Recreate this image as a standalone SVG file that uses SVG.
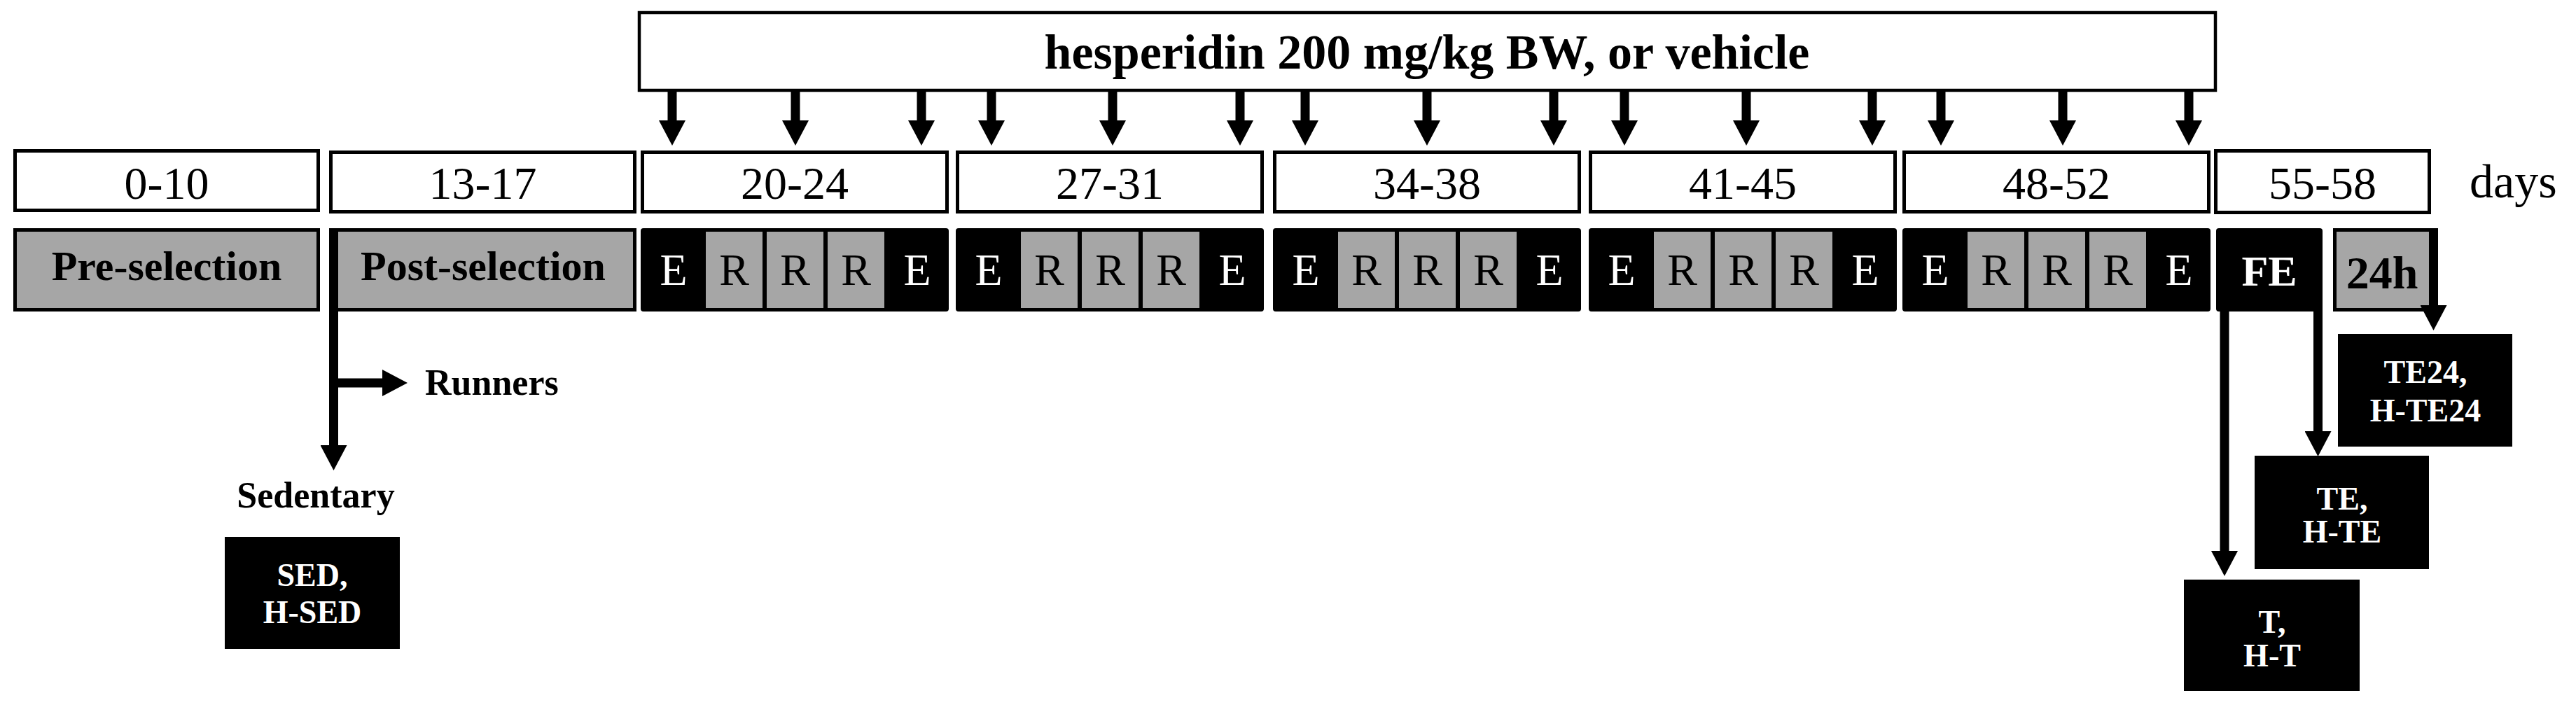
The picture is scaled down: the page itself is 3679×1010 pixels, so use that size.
<svg xmlns="http://www.w3.org/2000/svg" width="3679" height="1010" viewBox="0 0 3679 1010">
<style>
  text { font-family: "Liberation Serif", "Times New Roman", serif; }
  .day { fill: #fff; stroke: #000; stroke-width: 5; }
  .lbl { font-size: 66px; text-anchor: middle; fill: #000; }
  .wk { fill: #000; }
  .cell { fill: #a6a6a6; }
  .gbox { fill: #a6a6a6; stroke: #000; stroke-width: 5; }
  .E { font-size: 64px; text-anchor: middle; fill: #fff; }
  .R { font-size: 64px; text-anchor: middle; fill: #000; }
  .bold { font-weight: bold; }
  .res { fill: #000; }
  .rtxt { font-size: 46px; font-weight: bold; text-anchor: middle; fill: #fff; }
  .conn { stroke: #000; stroke-width: 13; fill: none; marker-end: url(#ah); }
  .plain { stroke: #000; stroke-width: 13; fill: none; }
</style>
<defs>
  <marker id="ah" markerUnits="userSpaceOnUse" markerWidth="36" markerHeight="38" viewBox="0 0 36 38" refX="0" refY="19" orient="auto">
    <path d="M0,0 L36,19 L0,38 Z" fill="#000"/>
  </marker>
</defs>

<g id="treatment">
  <rect x="913" y="18" width="2251" height="111" fill="#fff" stroke="#000" stroke-width="4.5"/>
  <text x="2038" y="98" class="bold" font-size="70" text-anchor="middle">hesperidin 200 mg/kg BW, or vehicle</text>
</g>

<g id="days-row">
  <g id="d0-10"><rect class="day" x="21.5" y="215.5" width="433" height="85"/><text class="lbl" x="238" y="284">0-10</text></g>
  <g id="d13-17"><rect class="day" x="472.5" y="217.5" width="434" height="85"/><text class="lbl" x="689.5" y="284">13-17</text></g>
  <g id="d20-24"><rect class="day" x="917.5" y="217.5" width="435" height="85"/><text class="lbl" x="1135" y="284">20-24</text></g>
  <g id="d27-31"><rect class="day" x="1367.5" y="217.5" width="435" height="85"/><text class="lbl" x="1585" y="284">27-31</text></g>
  <g id="d34-38"><rect class="day" x="1820.5" y="217.5" width="435" height="85"/><text class="lbl" x="2038" y="284">34-38</text></g>
  <g id="d41-45"><rect class="day" x="2271.5" y="217.5" width="435" height="85"/><text class="lbl" x="2489" y="284">41-45</text></g>
  <g id="d48-52"><rect class="day" x="2719.5" y="217.5" width="435" height="85"/><text class="lbl" x="2937" y="284">48-52</text></g>
  <g id="d55-58"><rect class="day" x="3164.5" y="215.5" width="305" height="88"/><text class="lbl" x="3317" y="284">55-58</text></g>
  <text id="days" x="3527" y="282" font-size="68">days</text>
</g>

<g id="pre-selection">
  <rect class="gbox" x="21.5" y="328.5" width="433" height="114"/>
  <text x="238" y="400" class="bold" font-size="60" text-anchor="middle">Pre-selection</text>
</g>
<g id="post-selection">
  <rect class="gbox" x="472.5" y="328.5" width="434" height="114"/>
  <text x="690" y="400" class="bold" font-size="60" text-anchor="middle">Post-selection</text>
</g>

<g id="week1">
  <rect class="wk" x="915" y="326" width="440" height="119" rx="4"/>
  <rect class="cell" x="1008" y="331" width="81" height="109"/>
  <rect class="cell" x="1095" y="331" width="81" height="109"/>
  <rect class="cell" x="1182" y="331" width="81" height="109"/>
  <text class="E" x="962" y="407">E</text><text class="R" x="1048.5" y="407">R</text><text class="R" x="1135.5" y="407">R</text><text class="R" x="1222.5" y="407">R</text><text class="E" x="1310" y="407">E</text>
</g>
<g id="week2">
  <rect class="wk" x="1365" y="326" width="440" height="119" rx="4"/>
  <rect class="cell" x="1458" y="331" width="81" height="109"/>
  <rect class="cell" x="1545" y="331" width="81" height="109"/>
  <rect class="cell" x="1632" y="331" width="81" height="109"/>
  <text class="E" x="1412" y="407">E</text><text class="R" x="1498.5" y="407">R</text><text class="R" x="1585.5" y="407">R</text><text class="R" x="1672.5" y="407">R</text><text class="E" x="1760" y="407">E</text>
</g>
<g id="week3">
  <rect class="wk" x="1818" y="326" width="440" height="119" rx="4"/>
  <rect class="cell" x="1911" y="331" width="81" height="109"/>
  <rect class="cell" x="1998" y="331" width="81" height="109"/>
  <rect class="cell" x="2085" y="331" width="81" height="109"/>
  <text class="E" x="1865" y="407">E</text><text class="R" x="1951.5" y="407">R</text><text class="R" x="2038.5" y="407">R</text><text class="R" x="2125.5" y="407">R</text><text class="E" x="2213" y="407">E</text>
</g>
<g id="week4">
  <rect class="wk" x="2269" y="326" width="440" height="119" rx="4"/>
  <rect class="cell" x="2362" y="331" width="81" height="109"/>
  <rect class="cell" x="2449" y="331" width="81" height="109"/>
  <rect class="cell" x="2536" y="331" width="81" height="109"/>
  <text class="E" x="2316" y="407">E</text><text class="R" x="2402.5" y="407">R</text><text class="R" x="2489.5" y="407">R</text><text class="R" x="2576.5" y="407">R</text><text class="E" x="2664" y="407">E</text>
</g>
<g id="week5">
  <rect class="wk" x="2717" y="326" width="440" height="119" rx="4"/>
  <rect class="cell" x="2810" y="331" width="81" height="109"/>
  <rect class="cell" x="2897" y="331" width="81" height="109"/>
  <rect class="cell" x="2984" y="331" width="81" height="109"/>
  <text class="E" x="2764" y="407">E</text><text class="R" x="2850.5" y="407">R</text><text class="R" x="2937.5" y="407">R</text><text class="R" x="3024.5" y="407">R</text><text class="E" x="3112" y="407">E</text>
</g>

<g id="FE">
  <rect class="wk" x="3165" y="326" width="152" height="119" rx="4"/>
  <text x="3241" y="408" class="bold" font-size="62" text-anchor="middle" fill="#fff">FE</text>
</g>
<g id="h24">
  <rect class="gbox" x="3334.5" y="328.5" width="145" height="114"/>
  <text x="3402" y="412" class="bold" font-size="66" text-anchor="middle">24h</text>
</g>

<g id="SED">
  <rect class="res" x="321" y="767" width="250" height="160"/>
  <text class="rtxt" x="446" y="837">SED,</text>
  <text class="rtxt" x="446" y="890">H-SED</text>
</g>
<g id="TE24">
  <rect class="res" x="3339" y="477" width="249" height="161"/>
  <text class="rtxt" x="3464" y="547">TE24,</text>
  <text class="rtxt" x="3464" y="602">H-TE24</text>
</g>
<g id="TE">
  <rect class="res" x="3220" y="651" width="249" height="162"/>
  <text class="rtxt" x="3345" y="728">TE,</text>
  <text class="rtxt" x="3345" y="775">H-TE</text>
</g>
<g id="T">
  <rect class="res" x="3119" y="828" width="251" height="159"/>
  <text class="rtxt" x="3245" y="904">T,</text>
  <text class="rtxt" x="3245" y="952">H-T</text>
</g>

<text id="runners-label" x="607" y="564" class="bold" font-size="52">Runners</text>
<text id="sedentary-label" x="451" y="725" class="bold" font-size="52" text-anchor="middle">Sedentary</text>

<g id="connectors">
  <line class="conn" x1="960" y1="129" x2="960" y2="172"/>
  <line class="conn" x1="1136" y1="129" x2="1136" y2="172"/>
  <line class="conn" x1="1316" y1="129" x2="1316" y2="172"/>
  <line class="conn" x1="1416" y1="129" x2="1416" y2="172"/>
  <line class="conn" x1="1589" y1="129" x2="1589" y2="172"/>
  <line class="conn" x1="1771" y1="129" x2="1771" y2="172"/>
  <line class="conn" x1="1864" y1="129" x2="1864" y2="172"/>
  <line class="conn" x1="2038" y1="129" x2="2038" y2="172"/>
  <line class="conn" x1="2219" y1="129" x2="2219" y2="172"/>
  <line class="conn" x1="2320" y1="129" x2="2320" y2="172"/>
  <line class="conn" x1="2494" y1="129" x2="2494" y2="172"/>
  <line class="conn" x1="2674" y1="129" x2="2674" y2="172"/>
  <line class="conn" x1="2772" y1="129" x2="2772" y2="172"/>
  <line class="conn" x1="2946" y1="129" x2="2946" y2="172"/>
  <line class="conn" x1="3126" y1="129" x2="3126" y2="172"/>

  <line class="conn" x1="476.5" y1="326" x2="476.5" y2="636"/>
  <line class="conn" x1="483" y1="547" x2="546" y2="547"/>

  <line class="conn" x1="3177" y1="440" x2="3177" y2="787"/>
  <line class="conn" x1="3310.5" y1="440" x2="3310.5" y2="616"/>
  <line class="conn" x1="3475.5" y1="326" x2="3475.5" y2="436"/>
</g>
</svg>
